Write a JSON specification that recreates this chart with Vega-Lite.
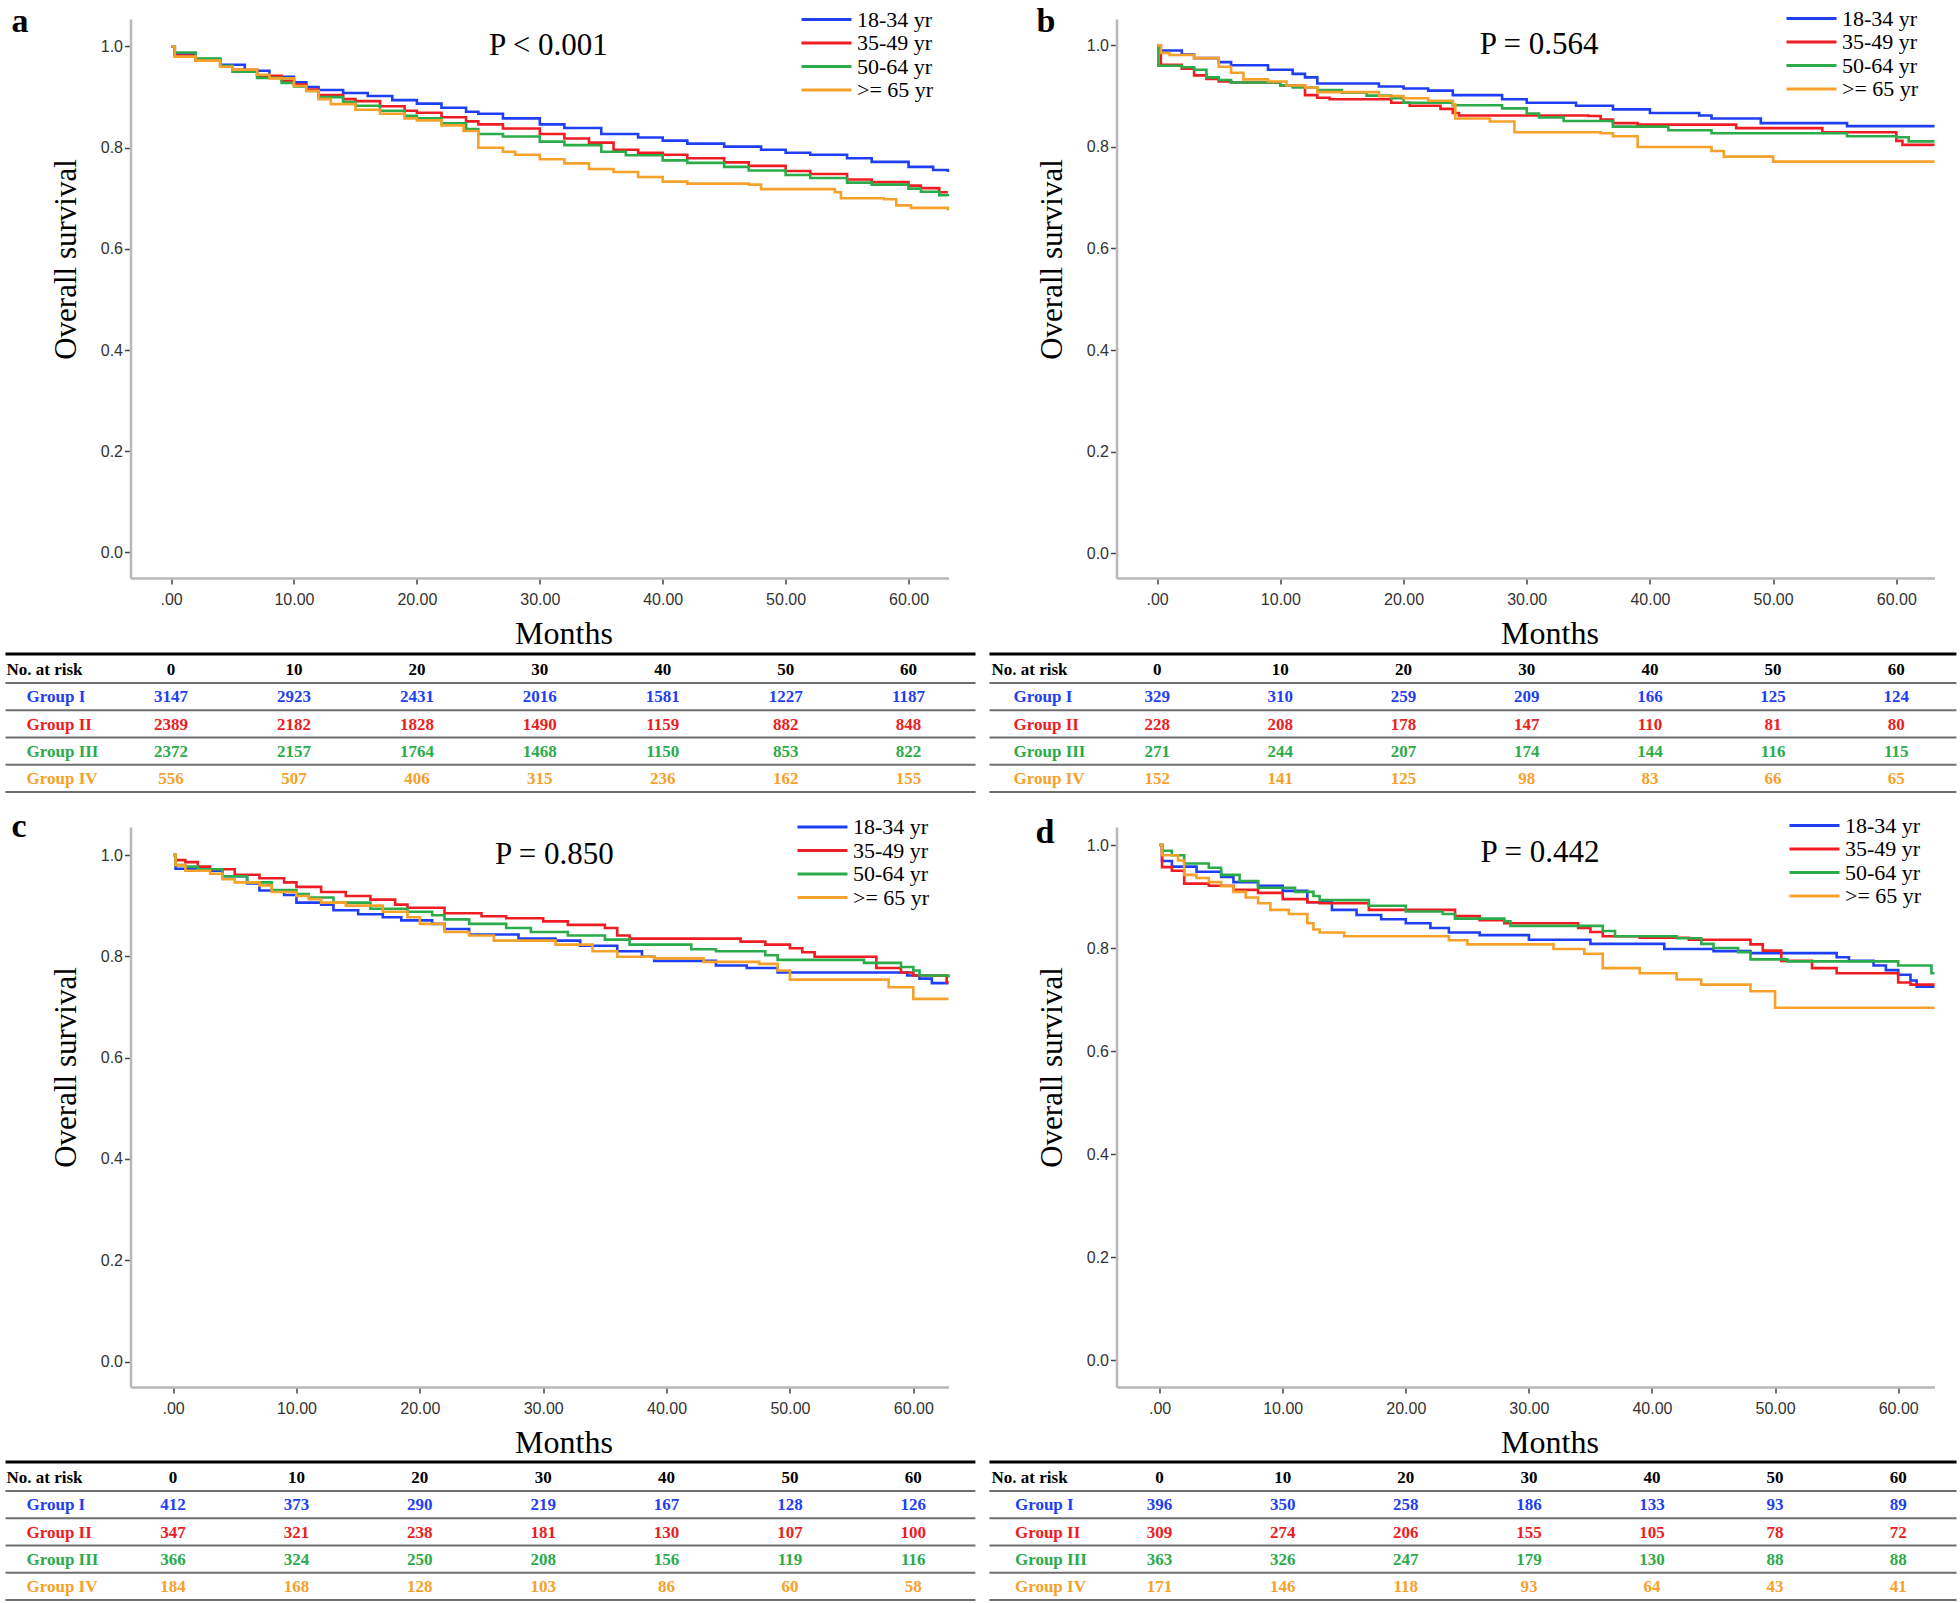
{
"$schema": "https://vega.github.io/schema/vega-lite/v6.json",
"background": "white",
"padding": {"left": 3.5, "top": 4, "right": 0, "bottom": 0},
"columns": 2,
"bounds": "flush",
"spacing": {"row": 249, "column": 168},
"resolve": {"scale": {"color": "independent", "x": "independent", "y": "independent"}, "legend": {"color": "independent"}},
"config": {
  "view": {"stroke": null},
  "axis": {"domainColor": "#b8b8b8", "domainWidth": 2.5, "tickColor": "#444", "tickWidth": 1.5, "tickSize": 6, "labelFont": "Liberation Sans", "labelFontSize": 16, "labelColor": "#333", "grid": false, "titleFont": "Liberation Serif", "titleFontWeight": "normal", "titleColor": "#000", "labelFlush": false, "labelOverlap": false},
  "axisX": {"titleFontSize": 32, "titleX": 433, "titleY": 65, "titleBaseline": "alphabetic", "labelPadding": 7},
  "axisY": {"titleFontSize": 31, "titleX": -55, "titleY": 240, "titleBaseline": "alphabetic", "labelPadding": 2},
  "legend": {"labelFont": "Liberation Serif", "labelFontSize": 22, "labelColor": "#000", "symbolType": "M-5,0H5", "symbolSize": 100, "symbolStrokeWidth": 3, "symbolOffset": 14, "rowPadding": 1.5, "labelOffset": 19.5, "padding": 0, "titlePadding": 0}
},
"datasets": {
  "rows": [{"r":"No. at risk"},{"r":"Group I"},{"r":"Group II"},{"r":"Group III"},{"r":"Group IV"}],
  "grp": [{"g":"18-34 yr","r":"Group I"},{"g":"35-49 yr","r":"Group II"},{"g":"50-64 yr","r":"Group III"},{"g":">= 65 yr","r":"Group IV"}],
  "hdr": [{"t":0},{"t":10},{"t":20},{"t":30},{"t":40},{"t":50},{"t":60}],
  "ca": [
{"g":"18-34 yr","t":0,"s":1},{"g":"18-34 yr","t":0.3,"s":0.985},{"g":"18-34 yr","t":2,"s":0.975},{"g":"18-34 yr","t":4,"s":0.964},{"g":"18-34 yr","t":6,"s":0.952},{"g":"18-34 yr","t":8,"s":0.94},{"g":"18-34 yr","t":10,"s":0.929},{"g":"18-34 yr","t":11,"s":0.92},{"g":"18-34 yr","t":12,"s":0.914},{"g":"18-34 yr","t":14,"s":0.908},{"g":"18-34 yr","t":16,"s":0.902},{"g":"18-34 yr","t":18,"s":0.894},{"g":"18-34 yr","t":20,"s":0.887},{"g":"18-34 yr","t":22,"s":0.879},{"g":"18-34 yr","t":24,"s":0.871},{"g":"18-34 yr","t":25,"s":0.867},{"g":"18-34 yr","t":27,"s":0.858},{"g":"18-34 yr","t":30,"s":0.846},{"g":"18-34 yr","t":32,"s":0.839},{"g":"18-34 yr","t":35,"s":0.827},{"g":"18-34 yr","t":38,"s":0.82},{"g":"18-34 yr","t":40,"s":0.814},{"g":"18-34 yr","t":42,"s":0.808},{"g":"18-34 yr","t":45,"s":0.802},{"g":"18-34 yr","t":48,"s":0.796},{"g":"18-34 yr","t":50,"s":0.79},{"g":"18-34 yr","t":52,"s":0.786},{"g":"18-34 yr","t":55,"s":0.779},{"g":"18-34 yr","t":57,"s":0.772},{"g":"18-34 yr","t":60,"s":0.762},{"g":"18-34 yr","t":62,"s":0.756},{"g":"18-34 yr","t":63.2,"s":0.752},
{"g":"35-49 yr","t":0,"s":1},{"g":"35-49 yr","t":0.3,"s":0.982},{"g":"35-49 yr","t":2,"s":0.972},{"g":"35-49 yr","t":4,"s":0.96},{"g":"35-49 yr","t":5,"s":0.954},{"g":"35-49 yr","t":7,"s":0.942},{"g":"35-49 yr","t":9,"s":0.932},{"g":"35-49 yr","t":10,"s":0.925},{"g":"35-49 yr","t":11,"s":0.915},{"g":"35-49 yr","t":12,"s":0.904},{"g":"35-49 yr","t":14,"s":0.896},{"g":"35-49 yr","t":15,"s":0.892},{"g":"35-49 yr","t":17,"s":0.882},{"g":"35-49 yr","t":19,"s":0.873},{"g":"35-49 yr","t":20,"s":0.869},{"g":"35-49 yr","t":22,"s":0.86},{"g":"35-49 yr","t":24,"s":0.852},{"g":"35-49 yr","t":25,"s":0.846},{"g":"35-49 yr","t":27,"s":0.838},{"g":"35-49 yr","t":30,"s":0.827},{"g":"35-49 yr","t":32,"s":0.818},{"g":"35-49 yr","t":34,"s":0.81},{"g":"35-49 yr","t":36,"s":0.796},{"g":"35-49 yr","t":38,"s":0.79},{"g":"35-49 yr","t":40,"s":0.786},{"g":"35-49 yr","t":42,"s":0.779},{"g":"35-49 yr","t":45,"s":0.771},{"g":"35-49 yr","t":47,"s":0.764},{"g":"35-49 yr","t":50,"s":0.754},{"g":"35-49 yr","t":52,"s":0.748},{"g":"35-49 yr","t":55,"s":0.737},{"g":"35-49 yr","t":57,"s":0.732},{"g":"35-49 yr","t":60,"s":0.725},{"g":"35-49 yr","t":61,"s":0.72},{"g":"35-49 yr","t":62.5,"s":0.712},{"g":"35-49 yr","t":63.2,"s":0.712},
{"g":"50-64 yr","t":0,"s":1},{"g":"50-64 yr","t":0.3,"s":0.988},{"g":"50-64 yr","t":2,"s":0.976},{"g":"50-64 yr","t":4,"s":0.962},{"g":"50-64 yr","t":5,"s":0.95},{"g":"50-64 yr","t":7,"s":0.938},{"g":"50-64 yr","t":9,"s":0.928},{"g":"50-64 yr","t":10,"s":0.921},{"g":"50-64 yr","t":11,"s":0.912},{"g":"50-64 yr","t":12,"s":0.9},{"g":"50-64 yr","t":14,"s":0.89},{"g":"50-64 yr","t":15,"s":0.883},{"g":"50-64 yr","t":17,"s":0.873},{"g":"50-64 yr","t":19,"s":0.863},{"g":"50-64 yr","t":20,"s":0.858},{"g":"50-64 yr","t":22,"s":0.848},{"g":"50-64 yr","t":24,"s":0.837},{"g":"50-64 yr","t":25,"s":0.827},{"g":"50-64 yr","t":27,"s":0.822},{"g":"50-64 yr","t":30,"s":0.812},{"g":"50-64 yr","t":32,"s":0.805},{"g":"50-64 yr","t":35,"s":0.792},{"g":"50-64 yr","t":37,"s":0.785},{"g":"50-64 yr","t":40,"s":0.775},{"g":"50-64 yr","t":42,"s":0.77},{"g":"50-64 yr","t":45,"s":0.762},{"g":"50-64 yr","t":47,"s":0.755},{"g":"50-64 yr","t":50,"s":0.746},{"g":"50-64 yr","t":52,"s":0.74},{"g":"50-64 yr","t":55,"s":0.731},{"g":"50-64 yr","t":57,"s":0.727},{"g":"50-64 yr","t":60,"s":0.719},{"g":"50-64 yr","t":61,"s":0.713},{"g":"50-64 yr","t":62.5,"s":0.706},{"g":"50-64 yr","t":63.2,"s":0.704},
{"g":">= 65 yr","t":0,"s":1},{"g":">= 65 yr","t":0.3,"s":0.98},{"g":">= 65 yr","t":2,"s":0.972},{"g":">= 65 yr","t":4,"s":0.96},{"g":">= 65 yr","t":5,"s":0.954},{"g":">= 65 yr","t":7,"s":0.944},{"g":">= 65 yr","t":8,"s":0.937},{"g":">= 65 yr","t":10,"s":0.922},{"g":">= 65 yr","t":11,"s":0.912},{"g":">= 65 yr","t":12,"s":0.896},{"g":">= 65 yr","t":13,"s":0.886},{"g":">= 65 yr","t":15,"s":0.875},{"g":">= 65 yr","t":17,"s":0.867},{"g":">= 65 yr","t":19,"s":0.858},{"g":">= 65 yr","t":20,"s":0.854},{"g":">= 65 yr","t":22,"s":0.844},{"g":">= 65 yr","t":23.8,"s":0.833},{"g":">= 65 yr","t":25,"s":0.8},{"g":">= 65 yr","t":27,"s":0.792},{"g":">= 65 yr","t":28,"s":0.786},{"g":">= 65 yr","t":30,"s":0.777},{"g":">= 65 yr","t":32,"s":0.769},{"g":">= 65 yr","t":34,"s":0.758},{"g":">= 65 yr","t":36,"s":0.752},{"g":">= 65 yr","t":38,"s":0.742},{"g":">= 65 yr","t":40,"s":0.733},{"g":">= 65 yr","t":42,"s":0.729},{"g":">= 65 yr","t":47,"s":0.727},{"g":">= 65 yr","t":48,"s":0.718},{"g":">= 65 yr","t":54,"s":0.712},{"g":">= 65 yr","t":54.5,"s":0.7},{"g":">= 65 yr","t":58,"s":0.698},{"g":">= 65 yr","t":59,"s":0.686},{"g":">= 65 yr","t":60.2,"s":0.681},{"g":">= 65 yr","t":63.2,"s":0.676}
  ],
  "cb": [
{"g":"18-34 yr","t":0,"s":1},{"g":"18-34 yr","t":0.2,"s":0.99},{"g":"18-34 yr","t":2,"s":0.982},{"g":"18-34 yr","t":3,"s":0.975},{"g":"18-34 yr","t":5,"s":0.967},{"g":"18-34 yr","t":6,"s":0.961},{"g":"18-34 yr","t":9,"s":0.952},{"g":"18-34 yr","t":11,"s":0.944},{"g":"18-34 yr","t":12,"s":0.937},{"g":"18-34 yr","t":13,"s":0.925},{"g":"18-34 yr","t":18,"s":0.919},{"g":"18-34 yr","t":20,"s":0.915},{"g":"18-34 yr","t":22,"s":0.911},{"g":"18-34 yr","t":24,"s":0.902},{"g":"18-34 yr","t":28,"s":0.894},{"g":"18-34 yr","t":30,"s":0.887},{"g":"18-34 yr","t":34,"s":0.881},{"g":"18-34 yr","t":37,"s":0.874},{"g":"18-34 yr","t":40,"s":0.867},{"g":"18-34 yr","t":44,"s":0.862},{"g":"18-34 yr","t":45,"s":0.856},{"g":"18-34 yr","t":49,"s":0.847},{"g":"18-34 yr","t":56,"s":0.841},{"g":"18-34 yr","t":63.1,"s":0.841},
{"g":"35-49 yr","t":0,"s":1},{"g":"35-49 yr","t":0.3,"s":0.962},{"g":"35-49 yr","t":2,"s":0.954},{"g":"35-49 yr","t":3,"s":0.941},{"g":"35-49 yr","t":4,"s":0.934},{"g":"35-49 yr","t":5,"s":0.929},{"g":"35-49 yr","t":6,"s":0.927},{"g":"35-49 yr","t":10,"s":0.921},{"g":"35-49 yr","t":12,"s":0.902},{"g":"35-49 yr","t":13,"s":0.897},{"g":"35-49 yr","t":14,"s":0.894},{"g":"35-49 yr","t":19,"s":0.887},{"g":"35-49 yr","t":20.5,"s":0.881},{"g":"35-49 yr","t":23,"s":0.875},{"g":"35-49 yr","t":24,"s":0.867},{"g":"35-49 yr","t":24.5,"s":0.862},{"g":"35-49 yr","t":35,"s":0.861},{"g":"35-49 yr","t":36,"s":0.854},{"g":"35-49 yr","t":37,"s":0.847},{"g":"35-49 yr","t":39,"s":0.844},{"g":"35-49 yr","t":47,"s":0.837},{"g":"35-49 yr","t":54,"s":0.829},{"g":"35-49 yr","t":60,"s":0.812},{"g":"35-49 yr","t":60.5,"s":0.804},{"g":"35-49 yr","t":63.1,"s":0.804},
{"g":"50-64 yr","t":0,"s":1},{"g":"50-64 yr","t":0.1,"s":0.96},{"g":"50-64 yr","t":2,"s":0.957},{"g":"50-64 yr","t":3,"s":0.952},{"g":"50-64 yr","t":4,"s":0.937},{"g":"50-64 yr","t":5,"s":0.932},{"g":"50-64 yr","t":6,"s":0.927},{"g":"50-64 yr","t":10,"s":0.921},{"g":"50-64 yr","t":11,"s":0.917},{"g":"50-64 yr","t":13,"s":0.912},{"g":"50-64 yr","t":15,"s":0.907},{"g":"50-64 yr","t":17,"s":0.901},{"g":"50-64 yr","t":19,"s":0.896},{"g":"50-64 yr","t":20,"s":0.887},{"g":"50-64 yr","t":24,"s":0.882},{"g":"50-64 yr","t":28,"s":0.876},{"g":"50-64 yr","t":30,"s":0.866},{"g":"50-64 yr","t":31,"s":0.858},{"g":"50-64 yr","t":33,"s":0.851},{"g":"50-64 yr","t":37,"s":0.84},{"g":"50-64 yr","t":41.5,"s":0.833},{"g":"50-64 yr","t":45,"s":0.827},{"g":"50-64 yr","t":56,"s":0.821},{"g":"50-64 yr","t":60,"s":0.819},{"g":"50-64 yr","t":61,"s":0.811},{"g":"50-64 yr","t":63.1,"s":0.811},
{"g":">= 65 yr","t":0,"s":1},{"g":">= 65 yr","t":0.3,"s":0.985},{"g":">= 65 yr","t":1,"s":0.981},{"g":">= 65 yr","t":3,"s":0.975},{"g":">= 65 yr","t":5,"s":0.958},{"g":">= 65 yr","t":6,"s":0.946},{"g":">= 65 yr","t":7,"s":0.933},{"g":">= 65 yr","t":9,"s":0.929},{"g":">= 65 yr","t":10.5,"s":0.921},{"g":">= 65 yr","t":12,"s":0.917},{"g":">= 65 yr","t":13,"s":0.908},{"g":">= 65 yr","t":18,"s":0.9},{"g":">= 65 yr","t":20,"s":0.896},{"g":">= 65 yr","t":22,"s":0.891},{"g":">= 65 yr","t":24,"s":0.884},{"g":">= 65 yr","t":24.2,"s":0.856},{"g":">= 65 yr","t":27,"s":0.85},{"g":">= 65 yr","t":29,"s":0.829},{"g":">= 65 yr","t":36,"s":0.827},{"g":">= 65 yr","t":37,"s":0.821},{"g":">= 65 yr","t":39,"s":0.8},{"g":">= 65 yr","t":45,"s":0.792},{"g":">= 65 yr","t":46,"s":0.781},{"g":">= 65 yr","t":50,"s":0.771},{"g":">= 65 yr","t":63.1,"s":0.771}
  ],
  "cc": [
{"g":"18-34 yr","t":0,"s":1},{"g":"18-34 yr","t":0.2,"s":0.973},{"g":"18-34 yr","t":2,"s":0.969},{"g":"18-34 yr","t":4,"s":0.958},{"g":"18-34 yr","t":6,"s":0.944},{"g":"18-34 yr","t":7,"s":0.93},{"g":"18-34 yr","t":9,"s":0.921},{"g":"18-34 yr","t":10,"s":0.906},{"g":"18-34 yr","t":12,"s":0.902},{"g":"18-34 yr","t":13,"s":0.891},{"g":"18-34 yr","t":15,"s":0.883},{"g":"18-34 yr","t":17,"s":0.877},{"g":"18-34 yr","t":18.5,"s":0.871},{"g":"18-34 yr","t":21,"s":0.864},{"g":"18-34 yr","t":22,"s":0.854},{"g":"18-34 yr","t":24,"s":0.843},{"g":"18-34 yr","t":28,"s":0.835},{"g":"18-34 yr","t":31,"s":0.831},{"g":"18-34 yr","t":33,"s":0.821},{"g":"18-34 yr","t":36,"s":0.81},{"g":"18-34 yr","t":38,"s":0.799},{"g":"18-34 yr","t":39,"s":0.791},{"g":"18-34 yr","t":44,"s":0.782},{"g":"18-34 yr","t":46.5,"s":0.777},{"g":"18-34 yr","t":49,"s":0.768},{"g":"18-34 yr","t":59.5,"s":0.762},{"g":"18-34 yr","t":60.5,"s":0.756},{"g":"18-34 yr","t":61.5,"s":0.747},{"g":"18-34 yr","t":62.85,"s":0.747},
{"g":"35-49 yr","t":0,"s":1},{"g":"35-49 yr","t":0.2,"s":0.99},{"g":"35-49 yr","t":1,"s":0.986},{"g":"35-49 yr","t":2,"s":0.977},{"g":"35-49 yr","t":3,"s":0.972},{"g":"35-49 yr","t":5,"s":0.961},{"g":"35-49 yr","t":7,"s":0.954},{"g":"35-49 yr","t":9,"s":0.946},{"g":"35-49 yr","t":10,"s":0.937},{"g":"35-49 yr","t":12,"s":0.927},{"g":"35-49 yr","t":14,"s":0.919},{"g":"35-49 yr","t":16,"s":0.912},{"g":"35-49 yr","t":18,"s":0.902},{"g":"35-49 yr","t":19,"s":0.896},{"g":"35-49 yr","t":22,"s":0.885},{"g":"35-49 yr","t":25,"s":0.879},{"g":"35-49 yr","t":27,"s":0.875},{"g":"35-49 yr","t":30,"s":0.869},{"g":"35-49 yr","t":32,"s":0.862},{"g":"35-49 yr","t":35,"s":0.856},{"g":"35-49 yr","t":36,"s":0.841},{"g":"35-49 yr","t":37,"s":0.835},{"g":"35-49 yr","t":46,"s":0.829},{"g":"35-49 yr","t":48,"s":0.823},{"g":"35-49 yr","t":50,"s":0.816},{"g":"35-49 yr","t":51,"s":0.808},{"g":"35-49 yr","t":52,"s":0.799},{"g":"35-49 yr","t":57,"s":0.777},{"g":"35-49 yr","t":59,"s":0.768},{"g":"35-49 yr","t":60,"s":0.762},{"g":"35-49 yr","t":62.7,"s":0.749},{"g":"35-49 yr","t":62.85,"s":0.749},
{"g":"50-64 yr","t":0,"s":1},{"g":"50-64 yr","t":0.2,"s":0.98},{"g":"50-64 yr","t":1,"s":0.977},{"g":"50-64 yr","t":2,"s":0.972},{"g":"50-64 yr","t":4,"s":0.958},{"g":"50-64 yr","t":6,"s":0.946},{"g":"50-64 yr","t":8,"s":0.931},{"g":"50-64 yr","t":10,"s":0.923},{"g":"50-64 yr","t":11,"s":0.916},{"g":"50-64 yr","t":13,"s":0.906},{"g":"50-64 yr","t":16,"s":0.894},{"g":"50-64 yr","t":19,"s":0.888},{"g":"50-64 yr","t":21,"s":0.881},{"g":"50-64 yr","t":22,"s":0.873},{"g":"50-64 yr","t":24,"s":0.864},{"g":"50-64 yr","t":27,"s":0.856},{"g":"50-64 yr","t":29,"s":0.848},{"g":"50-64 yr","t":32,"s":0.841},{"g":"50-64 yr","t":35,"s":0.833},{"g":"50-64 yr","t":37,"s":0.823},{"g":"50-64 yr","t":42,"s":0.814},{"g":"50-64 yr","t":44,"s":0.81},{"g":"50-64 yr","t":48,"s":0.802},{"g":"50-64 yr","t":49,"s":0.793},{"g":"50-64 yr","t":56,"s":0.787},{"g":"50-64 yr","t":59,"s":0.779},{"g":"50-64 yr","t":60,"s":0.772},{"g":"50-64 yr","t":60.5,"s":0.762},{"g":"50-64 yr","t":62.85,"s":0.758},
{"g":">= 65 yr","t":0,"s":1},{"g":">= 65 yr","t":0.2,"s":0.98},{"g":">= 65 yr","t":1,"s":0.969},{"g":">= 65 yr","t":3,"s":0.963},{"g":">= 65 yr","t":4,"s":0.952},{"g":">= 65 yr","t":5,"s":0.946},{"g":">= 65 yr","t":7,"s":0.94},{"g":">= 65 yr","t":8,"s":0.927},{"g":">= 65 yr","t":10,"s":0.919},{"g":">= 65 yr","t":11,"s":0.913},{"g":">= 65 yr","t":12,"s":0.906},{"g":">= 65 yr","t":14,"s":0.9},{"g":">= 65 yr","t":17,"s":0.888},{"g":">= 65 yr","t":19,"s":0.877},{"g":">= 65 yr","t":20,"s":0.864},{"g":">= 65 yr","t":22,"s":0.848},{"g":">= 65 yr","t":24,"s":0.841},{"g":">= 65 yr","t":26,"s":0.831},{"g":">= 65 yr","t":31,"s":0.823},{"g":">= 65 yr","t":34,"s":0.81},{"g":">= 65 yr","t":36,"s":0.799},{"g":">= 65 yr","t":39,"s":0.796},{"g":">= 65 yr","t":43,"s":0.789},{"g":">= 65 yr","t":47.5,"s":0.785},{"g":">= 65 yr","t":49,"s":0.772},{"g":">= 65 yr","t":50,"s":0.754},{"g":">= 65 yr","t":58,"s":0.739},{"g":">= 65 yr","t":60,"s":0.716},{"g":">= 65 yr","t":62.85,"s":0.716}
  ],
  "cd": [
{"g":"18-34 yr","t":0,"s":1},{"g":"18-34 yr","t":0.2,"s":0.969},{"g":"18-34 yr","t":1,"s":0.958},{"g":"18-34 yr","t":3,"s":0.948},{"g":"18-34 yr","t":5,"s":0.938},{"g":"18-34 yr","t":6,"s":0.928},{"g":"18-34 yr","t":8,"s":0.921},{"g":"18-34 yr","t":10,"s":0.911},{"g":"18-34 yr","t":12,"s":0.889},{"g":"18-34 yr","t":14,"s":0.874},{"g":"18-34 yr","t":16,"s":0.864},{"g":"18-34 yr","t":18,"s":0.856},{"g":"18-34 yr","t":20,"s":0.848},{"g":"18-34 yr","t":22,"s":0.839},{"g":"18-34 yr","t":23.5,"s":0.83},{"g":"18-34 yr","t":26,"s":0.825},{"g":"18-34 yr","t":30,"s":0.816},{"g":"18-34 yr","t":35,"s":0.808},{"g":"18-34 yr","t":41,"s":0.798},{"g":"18-34 yr","t":45,"s":0.794},{"g":"18-34 yr","t":48,"s":0.79},{"g":"18-34 yr","t":55,"s":0.782},{"g":"18-34 yr","t":56,"s":0.775},{"g":"18-34 yr","t":58,"s":0.766},{"g":"18-34 yr","t":59,"s":0.757},{"g":"18-34 yr","t":60,"s":0.748},{"g":"18-34 yr","t":61,"s":0.737},{"g":"18-34 yr","t":61.5,"s":0.725},{"g":"18-34 yr","t":62.95,"s":0.725},
{"g":"35-49 yr","t":0,"s":1},{"g":"35-49 yr","t":0.2,"s":0.957},{"g":"35-49 yr","t":1,"s":0.95},{"g":"35-49 yr","t":2,"s":0.925},{"g":"35-49 yr","t":4,"s":0.921},{"g":"35-49 yr","t":6,"s":0.913},{"g":"35-49 yr","t":8,"s":0.907},{"g":"35-49 yr","t":10,"s":0.895},{"g":"35-49 yr","t":12,"s":0.889},{"g":"35-49 yr","t":13,"s":0.887},{"g":"35-49 yr","t":17,"s":0.874},{"g":"35-49 yr","t":24,"s":0.862},{"g":"35-49 yr","t":26,"s":0.854},{"g":"35-49 yr","t":28,"s":0.848},{"g":"35-49 yr","t":34,"s":0.839},{"g":"35-49 yr","t":35,"s":0.831},{"g":"35-49 yr","t":36,"s":0.823},{"g":"35-49 yr","t":39,"s":0.82},{"g":"35-49 yr","t":43,"s":0.816},{"g":"35-49 yr","t":48,"s":0.807},{"g":"35-49 yr","t":49,"s":0.795},{"g":"35-49 yr","t":50.5,"s":0.775},{"g":"35-49 yr","t":53,"s":0.761},{"g":"35-49 yr","t":55,"s":0.751},{"g":"35-49 yr","t":60,"s":0.733},{"g":"35-49 yr","t":61,"s":0.729},{"g":"35-49 yr","t":62.95,"s":0.729},
{"g":"50-64 yr","t":0,"s":1},{"g":"50-64 yr","t":0.2,"s":0.989},{"g":"50-64 yr","t":1,"s":0.98},{"g":"50-64 yr","t":2,"s":0.964},{"g":"50-64 yr","t":4,"s":0.956},{"g":"50-64 yr","t":5,"s":0.942},{"g":"50-64 yr","t":6.5,"s":0.93},{"g":"50-64 yr","t":8,"s":0.917},{"g":"50-64 yr","t":11,"s":0.909},{"g":"50-64 yr","t":12.5,"s":0.901},{"g":"50-64 yr","t":13,"s":0.893},{"g":"50-64 yr","t":17,"s":0.882},{"g":"50-64 yr","t":20,"s":0.871},{"g":"50-64 yr","t":23,"s":0.866},{"g":"50-64 yr","t":24,"s":0.857},{"g":"50-64 yr","t":28,"s":0.852},{"g":"50-64 yr","t":28.5,"s":0.843},{"g":"50-64 yr","t":36,"s":0.833},{"g":"50-64 yr","t":37,"s":0.823},{"g":"50-64 yr","t":42,"s":0.819},{"g":"50-64 yr","t":44,"s":0.808},{"g":"50-64 yr","t":45,"s":0.8},{"g":"50-64 yr","t":47,"s":0.792},{"g":"50-64 yr","t":48,"s":0.778},{"g":"50-64 yr","t":51,"s":0.774},{"g":"50-64 yr","t":60,"s":0.766},{"g":"50-64 yr","t":62.7,"s":0.751},{"g":"50-64 yr","t":62.95,"s":0.751},
{"g":">= 65 yr","t":0,"s":1},{"g":">= 65 yr","t":0.2,"s":0.98},{"g":">= 65 yr","t":1.5,"s":0.97},{"g":">= 65 yr","t":2,"s":0.942},{"g":">= 65 yr","t":3,"s":0.936},{"g":">= 65 yr","t":4,"s":0.928},{"g":">= 65 yr","t":5,"s":0.92},{"g":">= 65 yr","t":6,"s":0.909},{"g":">= 65 yr","t":7,"s":0.898},{"g":">= 65 yr","t":8,"s":0.887},{"g":">= 65 yr","t":9,"s":0.874},{"g":">= 65 yr","t":10.5,"s":0.866},{"g":">= 65 yr","t":12,"s":0.848},{"g":">= 65 yr","t":12.5,"s":0.836},{"g":">= 65 yr","t":13,"s":0.83},{"g":">= 65 yr","t":15,"s":0.823},{"g":">= 65 yr","t":23.5,"s":0.815},{"g":">= 65 yr","t":25,"s":0.807},{"g":">= 65 yr","t":32,"s":0.798},{"g":">= 65 yr","t":34.5,"s":0.789},{"g":">= 65 yr","t":36,"s":0.761},{"g":">= 65 yr","t":39,"s":0.751},{"g":">= 65 yr","t":42,"s":0.739},{"g":">= 65 yr","t":44,"s":0.729},{"g":">= 65 yr","t":48,"s":0.716},{"g":">= 65 yr","t":50,"s":0.684},{"g":">= 65 yr","t":62.95,"s":0.684}
  ],
  "ta": [
{"g":"18-34 yr","r":"Group I","t":0,"n":3147},{"g":"18-34 yr","r":"Group I","t":10,"n":2923},{"g":"18-34 yr","r":"Group I","t":20,"n":2431},{"g":"18-34 yr","r":"Group I","t":30,"n":2016},{"g":"18-34 yr","r":"Group I","t":40,"n":1581},{"g":"18-34 yr","r":"Group I","t":50,"n":1227},{"g":"18-34 yr","r":"Group I","t":60,"n":1187},
{"g":"35-49 yr","r":"Group II","t":0,"n":2389},{"g":"35-49 yr","r":"Group II","t":10,"n":2182},{"g":"35-49 yr","r":"Group II","t":20,"n":1828},{"g":"35-49 yr","r":"Group II","t":30,"n":1490},{"g":"35-49 yr","r":"Group II","t":40,"n":1159},{"g":"35-49 yr","r":"Group II","t":50,"n":882},{"g":"35-49 yr","r":"Group II","t":60,"n":848},
{"g":"50-64 yr","r":"Group III","t":0,"n":2372},{"g":"50-64 yr","r":"Group III","t":10,"n":2157},{"g":"50-64 yr","r":"Group III","t":20,"n":1764},{"g":"50-64 yr","r":"Group III","t":30,"n":1468},{"g":"50-64 yr","r":"Group III","t":40,"n":1150},{"g":"50-64 yr","r":"Group III","t":50,"n":853},{"g":"50-64 yr","r":"Group III","t":60,"n":822},
{"g":">= 65 yr","r":"Group IV","t":0,"n":556},{"g":">= 65 yr","r":"Group IV","t":10,"n":507},{"g":">= 65 yr","r":"Group IV","t":20,"n":406},{"g":">= 65 yr","r":"Group IV","t":30,"n":315},{"g":">= 65 yr","r":"Group IV","t":40,"n":236},{"g":">= 65 yr","r":"Group IV","t":50,"n":162},{"g":">= 65 yr","r":"Group IV","t":60,"n":155}
  ],
  "tb": [
{"g":"18-34 yr","r":"Group I","t":0,"n":329},{"g":"18-34 yr","r":"Group I","t":10,"n":310},{"g":"18-34 yr","r":"Group I","t":20,"n":259},{"g":"18-34 yr","r":"Group I","t":30,"n":209},{"g":"18-34 yr","r":"Group I","t":40,"n":166},{"g":"18-34 yr","r":"Group I","t":50,"n":125},{"g":"18-34 yr","r":"Group I","t":60,"n":124},
{"g":"35-49 yr","r":"Group II","t":0,"n":228},{"g":"35-49 yr","r":"Group II","t":10,"n":208},{"g":"35-49 yr","r":"Group II","t":20,"n":178},{"g":"35-49 yr","r":"Group II","t":30,"n":147},{"g":"35-49 yr","r":"Group II","t":40,"n":110},{"g":"35-49 yr","r":"Group II","t":50,"n":81},{"g":"35-49 yr","r":"Group II","t":60,"n":80},
{"g":"50-64 yr","r":"Group III","t":0,"n":271},{"g":"50-64 yr","r":"Group III","t":10,"n":244},{"g":"50-64 yr","r":"Group III","t":20,"n":207},{"g":"50-64 yr","r":"Group III","t":30,"n":174},{"g":"50-64 yr","r":"Group III","t":40,"n":144},{"g":"50-64 yr","r":"Group III","t":50,"n":116},{"g":"50-64 yr","r":"Group III","t":60,"n":115},
{"g":">= 65 yr","r":"Group IV","t":0,"n":152},{"g":">= 65 yr","r":"Group IV","t":10,"n":141},{"g":">= 65 yr","r":"Group IV","t":20,"n":125},{"g":">= 65 yr","r":"Group IV","t":30,"n":98},{"g":">= 65 yr","r":"Group IV","t":40,"n":83},{"g":">= 65 yr","r":"Group IV","t":50,"n":66},{"g":">= 65 yr","r":"Group IV","t":60,"n":65}
  ],
  "tc": [
{"g":"18-34 yr","r":"Group I","t":0,"n":412},{"g":"18-34 yr","r":"Group I","t":10,"n":373},{"g":"18-34 yr","r":"Group I","t":20,"n":290},{"g":"18-34 yr","r":"Group I","t":30,"n":219},{"g":"18-34 yr","r":"Group I","t":40,"n":167},{"g":"18-34 yr","r":"Group I","t":50,"n":128},{"g":"18-34 yr","r":"Group I","t":60,"n":126},
{"g":"35-49 yr","r":"Group II","t":0,"n":347},{"g":"35-49 yr","r":"Group II","t":10,"n":321},{"g":"35-49 yr","r":"Group II","t":20,"n":238},{"g":"35-49 yr","r":"Group II","t":30,"n":181},{"g":"35-49 yr","r":"Group II","t":40,"n":130},{"g":"35-49 yr","r":"Group II","t":50,"n":107},{"g":"35-49 yr","r":"Group II","t":60,"n":100},
{"g":"50-64 yr","r":"Group III","t":0,"n":366},{"g":"50-64 yr","r":"Group III","t":10,"n":324},{"g":"50-64 yr","r":"Group III","t":20,"n":250},{"g":"50-64 yr","r":"Group III","t":30,"n":208},{"g":"50-64 yr","r":"Group III","t":40,"n":156},{"g":"50-64 yr","r":"Group III","t":50,"n":119},{"g":"50-64 yr","r":"Group III","t":60,"n":116},
{"g":">= 65 yr","r":"Group IV","t":0,"n":184},{"g":">= 65 yr","r":"Group IV","t":10,"n":168},{"g":">= 65 yr","r":"Group IV","t":20,"n":128},{"g":">= 65 yr","r":"Group IV","t":30,"n":103},{"g":">= 65 yr","r":"Group IV","t":40,"n":86},{"g":">= 65 yr","r":"Group IV","t":50,"n":60},{"g":">= 65 yr","r":"Group IV","t":60,"n":58}
  ],
  "td": [
{"g":"18-34 yr","r":"Group I","t":0,"n":396},{"g":"18-34 yr","r":"Group I","t":10,"n":350},{"g":"18-34 yr","r":"Group I","t":20,"n":258},{"g":"18-34 yr","r":"Group I","t":30,"n":186},{"g":"18-34 yr","r":"Group I","t":40,"n":133},{"g":"18-34 yr","r":"Group I","t":50,"n":93},{"g":"18-34 yr","r":"Group I","t":60,"n":89},
{"g":"35-49 yr","r":"Group II","t":0,"n":309},{"g":"35-49 yr","r":"Group II","t":10,"n":274},{"g":"35-49 yr","r":"Group II","t":20,"n":206},{"g":"35-49 yr","r":"Group II","t":30,"n":155},{"g":"35-49 yr","r":"Group II","t":40,"n":105},{"g":"35-49 yr","r":"Group II","t":50,"n":78},{"g":"35-49 yr","r":"Group II","t":60,"n":72},
{"g":"50-64 yr","r":"Group III","t":0,"n":363},{"g":"50-64 yr","r":"Group III","t":10,"n":326},{"g":"50-64 yr","r":"Group III","t":20,"n":247},{"g":"50-64 yr","r":"Group III","t":30,"n":179},{"g":"50-64 yr","r":"Group III","t":40,"n":130},{"g":"50-64 yr","r":"Group III","t":50,"n":88},{"g":"50-64 yr","r":"Group III","t":60,"n":88},
{"g":">= 65 yr","r":"Group IV","t":0,"n":171},{"g":">= 65 yr","r":"Group IV","t":10,"n":146},{"g":">= 65 yr","r":"Group IV","t":20,"n":118},{"g":">= 65 yr","r":"Group IV","t":30,"n":93},{"g":">= 65 yr","r":"Group IV","t":40,"n":64},{"g":">= 65 yr","r":"Group IV","t":50,"n":43},{"g":">= 65 yr","r":"Group IV","t":60,"n":41}
  ]
},
"concat": [
{
 "width": 818, "height": 559,
 "resolve": {"scale": {"y": "independent"}},
 "layer": [
  {"layer": [
   {"data": {"name": "ca"}, "mark": {"type": "line", "interpolate": "step-after", "strokeWidth": 2.6},
    "encoding": {
     "x": {"field": "t", "type": "quantitative", "scale": {"domain": [-3.3, 63.25], "nice": false, "zero": false}, "axis": {"values": [0,10,20,30,40,50,60], "labelExpr": "datum.value == 0 ? '.00' : format(datum.value, '.2f')", "title": "Months"}},
     "y": {"field": "s", "type": "quantitative", "scale": {"domain": [-0.0504, 1.0543], "nice": false, "zero": false}, "axis": {"values": [0,0.2,0.4,0.6,0.8,1], "format": ".1f", "title": "Overall survival"}},
     "color": {"field": "g", "type": "nominal", "scale": {"domain": ["18-34 yr","35-49 yr","50-64 yr",">= 65 yr"], "range": ["#1f3ff2","#ee1d23","#2bab4a","#f6a12b"]}, "legend": {"orient": "none", "legendX": 671, "legendY": -10.5, "title": null}}
    }},
   {"data": {"values": [{"p": "P < 0.001"}]}, "mark": {"type": "text", "font": "Liberation Serif", "fontSize": 31, "baseline": "middle", "align": "center", "color": "#000"},
    "encoding": {"x": {"datum": 30.7, "type": "quantitative", "scale": {"domain": [-3.3, 63.25], "nice": false, "zero": false}}, "y": {"datum": 1.0, "type": "quantitative", "scale": {"domain": [-0.0504, 1.0543], "nice": false, "zero": false}}, "text": {"field": "p"}}},
   {"data": {"values": [{"k": "a"}]}, "mark": {"type": "text", "font": "Liberation Serif", "fontSize": 34, "fontWeight": "bold", "baseline": "alphabetic", "align": "left", "color": "#000"},
    "encoding": {"x": {"datum": -12.98, "type": "quantitative", "scale": {"domain": [-3.3, 63.25], "nice": false, "zero": false}}, "y": {"datum": 1.0286, "type": "quantitative", "scale": {"domain": [-0.0504, 1.0543], "nice": false, "zero": false}}, "text": {"field": "k"}}}
  ]},
  {"layer": [
   {"data": {"name": "rows"}, "mark": {"type": "rule", "color": "#6e6e6e", "strokeWidth": 2, "yOffset": 13},
    "encoding": {"x": {"datum": -13.47, "type": "quantitative", "scale": {"domain": [-3.3, 63.25], "nice": false, "zero": false}}, "x2": {"datum": 65.45}, "y": {"field": "r", "type": "nominal", "scale": {"type": "point", "domain": ["No. at risk","Group I","Group II","Group III","Group IV"], "range": [651, 760], "padding": 0}, "axis": null}}},
   {"data": {"values": [{"r": "No. at risk"}]}, "mark": {"type": "rule", "color": "#000", "strokeWidth": 3, "yOffset": -16},
    "encoding": {"x": {"datum": -13.47, "type": "quantitative", "scale": {"domain": [-3.3, 63.25], "nice": false, "zero": false}}, "x2": {"datum": 65.45}, "y": {"field": "r", "type": "nominal", "scale": {"type": "point", "domain": ["No. at risk","Group I","Group II","Group III","Group IV"], "range": [651, 760], "padding": 0}, "axis": null}}},
   {"data": {"values": [{"r": "No. at risk"}]}, "mark": {"type": "text", "font": "Liberation Serif", "fontSize": 17, "fontWeight": "bold", "align": "left", "baseline": "middle", "color": "#000"},
    "encoding": {"x": {"datum": -13.39, "type": "quantitative", "scale": {"domain": [-3.3, 63.25], "nice": false, "zero": false}}, "y": {"field": "r", "type": "nominal", "scale": {"type": "point", "domain": ["No. at risk","Group I","Group II","Group III","Group IV"], "range": [651, 760], "padding": 0}, "axis": null}, "text": {"field": "r"}}},
   {"data": {"name": "hdr"}, "mark": {"type": "text", "font": "Liberation Serif", "fontSize": 17, "fontWeight": "bold", "align": "center", "baseline": "middle", "color": "#000"},
    "encoding": {"x": {"field": "t", "type": "quantitative", "title": "Months", "scale": {"domain": [-3.3, 63.25], "nice": false, "zero": false}}, "y": {"datum": "No. at risk", "type": "nominal", "scale": {"type": "point", "domain": ["No. at risk","Group I","Group II","Group III","Group IV"], "range": [651, 760], "padding": 0}, "axis": null}, "text": {"field": "t"}}},
   {"data": {"name": "grp"}, "mark": {"type": "text", "font": "Liberation Serif", "fontSize": 17, "fontWeight": "bold", "align": "left", "baseline": "middle"},
    "encoding": {"x": {"datum": -11.76, "type": "quantitative", "scale": {"domain": [-3.3, 63.25], "nice": false, "zero": false}}, "y": {"field": "r", "type": "nominal", "scale": {"type": "point", "domain": ["No. at risk","Group I","Group II","Group III","Group IV"], "range": [651, 760], "padding": 0}, "axis": null}, "text": {"field": "r"}, "color": {"field": "g", "type": "nominal", "scale": {"domain": ["18-34 yr","35-49 yr","50-64 yr",">= 65 yr"], "range": ["#1f3ff2","#ee1d23","#2bab4a","#f6a12b"]}, "legend": null}}},
   {"data": {"name": "ta"}, "mark": {"type": "text", "font": "Liberation Serif", "fontSize": 17, "fontWeight": "bold", "align": "center", "baseline": "middle"},
    "encoding": {"x": {"field": "t", "type": "quantitative", "title": "Months", "scale": {"domain": [-3.3, 63.25], "nice": false, "zero": false}}, "y": {"field": "r", "type": "nominal", "scale": {"type": "point", "domain": ["No. at risk","Group I","Group II","Group III","Group IV"], "range": [651, 760], "padding": 0}, "axis": null}, "text": {"field": "n"}, "color": {"field": "g", "type": "nominal", "scale": {"domain": ["18-34 yr","35-49 yr","50-64 yr",">= 65 yr"], "range": ["#1f3ff2","#ee1d23","#2bab4a","#f6a12b"]}, "legend": null}}}
  ]}
 ]
},
{
 "width": 818, "height": 559,
 "resolve": {"scale": {"y": "independent"}},
 "layer": [
  {"layer": [
   {"data": {"name": "cb"}, "mark": {"type": "line", "interpolate": "step-after", "strokeWidth": 2.6},
    "encoding": {
     "x": {"field": "t", "type": "quantitative", "scale": {"domain": [-3.3, 63.1], "nice": false, "zero": false}, "axis": {"values": [0,10,20,30,40,50,60], "labelExpr": "datum.value == 0 ? '.00' : format(datum.value, '.2f')", "title": "Months"}},
     "y": {"field": "s", "type": "quantitative", "scale": {"domain": [-0.049, 1.052], "nice": false, "zero": false}, "axis": {"values": [0,0.2,0.4,0.6,0.8,1], "format": ".1f", "title": "Overall survival"}},
     "color": {"field": "g", "type": "nominal", "scale": {"domain": ["18-34 yr","35-49 yr","50-64 yr",">= 65 yr"], "range": ["#1f3ff2","#ee1d23","#2bab4a","#f6a12b"]}, "legend": {"orient": "none", "legendX": 670, "legendY": -11.5, "title": null}}
    }},
   {"data": {"values": [{"p": "P = 0.564"}]}, "mark": {"type": "text", "font": "Liberation Serif", "fontSize": 31, "baseline": "middle", "align": "center", "color": "#000"},
    "encoding": {"x": {"datum": 31.0, "type": "quantitative", "scale": {"domain": [-3.3, 63.1], "nice": false, "zero": false}}, "y": {"datum": 1.0, "type": "quantitative", "scale": {"domain": [-0.049, 1.052], "nice": false, "zero": false}}, "text": {"field": "p"}}},
   {"data": {"values": [{"k": "b"}]}, "mark": {"type": "text", "font": "Liberation Serif", "fontSize": 34, "fontWeight": "bold", "baseline": "alphabetic", "align": "left", "color": "#000"},
    "encoding": {"x": {"datum": -9.79, "type": "quantitative", "scale": {"domain": [-3.3, 63.1], "nice": false, "zero": false}}, "y": {"datum": 1.0264, "type": "quantitative", "scale": {"domain": [-0.049, 1.052], "nice": false, "zero": false}}, "text": {"field": "k"}}}
  ]},
  {"layer": [
   {"data": {"name": "rows"}, "mark": {"type": "rule", "color": "#6e6e6e", "strokeWidth": 2, "yOffset": 13},
    "encoding": {"x": {"datum": -13.61, "type": "quantitative", "scale": {"domain": [-3.3, 63.1], "nice": false, "zero": false}}, "x2": {"datum": 64.88}, "y": {"field": "r", "type": "nominal", "scale": {"type": "point", "domain": ["No. at risk","Group I","Group II","Group III","Group IV"], "range": [651, 760], "padding": 0}, "axis": null}}},
   {"data": {"values": [{"r": "No. at risk"}]}, "mark": {"type": "rule", "color": "#000", "strokeWidth": 3, "yOffset": -16},
    "encoding": {"x": {"datum": -13.61, "type": "quantitative", "scale": {"domain": [-3.3, 63.1], "nice": false, "zero": false}}, "x2": {"datum": 64.88}, "y": {"field": "r", "type": "nominal", "scale": {"type": "point", "domain": ["No. at risk","Group I","Group II","Group III","Group IV"], "range": [651, 760], "padding": 0}, "axis": null}}},
   {"data": {"values": [{"r": "No. at risk"}]}, "mark": {"type": "text", "font": "Liberation Serif", "fontSize": 17, "fontWeight": "bold", "align": "left", "baseline": "middle", "color": "#000"},
    "encoding": {"x": {"datum": -13.45, "type": "quantitative", "scale": {"domain": [-3.3, 63.1], "nice": false, "zero": false}}, "y": {"field": "r", "type": "nominal", "scale": {"type": "point", "domain": ["No. at risk","Group I","Group II","Group III","Group IV"], "range": [651, 760], "padding": 0}, "axis": null}, "text": {"field": "r"}}},
   {"data": {"name": "hdr"}, "mark": {"type": "text", "font": "Liberation Serif", "fontSize": 17, "fontWeight": "bold", "align": "center", "baseline": "middle", "color": "#000"},
    "encoding": {"x": {"field": "t", "type": "quantitative", "title": "Months", "scale": {"domain": [-3.3, 63.1], "nice": false, "zero": false}}, "y": {"datum": "No. at risk", "type": "nominal", "scale": {"type": "point", "domain": ["No. at risk","Group I","Group II","Group III","Group IV"], "range": [651, 760], "padding": 0}, "axis": null}, "text": {"field": "t"}}},
   {"data": {"name": "grp"}, "mark": {"type": "text", "font": "Liberation Serif", "fontSize": 17, "fontWeight": "bold", "align": "left", "baseline": "middle"},
    "encoding": {"x": {"datum": -11.66, "type": "quantitative", "scale": {"domain": [-3.3, 63.1], "nice": false, "zero": false}}, "y": {"field": "r", "type": "nominal", "scale": {"type": "point", "domain": ["No. at risk","Group I","Group II","Group III","Group IV"], "range": [651, 760], "padding": 0}, "axis": null}, "text": {"field": "r"}, "color": {"field": "g", "type": "nominal", "scale": {"domain": ["18-34 yr","35-49 yr","50-64 yr",">= 65 yr"], "range": ["#1f3ff2","#ee1d23","#2bab4a","#f6a12b"]}, "legend": null}}},
   {"data": {"name": "tb"}, "mark": {"type": "text", "font": "Liberation Serif", "fontSize": 17, "fontWeight": "bold", "align": "center", "baseline": "middle"},
    "encoding": {"x": {"field": "t", "type": "quantitative", "title": "Months", "scale": {"domain": [-3.3, 63.1], "nice": false, "zero": false}}, "y": {"field": "r", "type": "nominal", "scale": {"type": "point", "domain": ["No. at risk","Group I","Group II","Group III","Group IV"], "range": [651, 760], "padding": 0}, "axis": null}, "text": {"field": "n"}, "color": {"field": "g", "type": "nominal", "scale": {"domain": ["18-34 yr","35-49 yr","50-64 yr",">= 65 yr"], "range": ["#1f3ff2","#ee1d23","#2bab4a","#f6a12b"]}, "legend": null}}}
  ]}
 ]
},
{
 "width": 818, "height": 560,
 "resolve": {"scale": {"y": "independent"}},
 "layer": [
  {"layer": [
   {"data": {"name": "cc"}, "mark": {"type": "line", "interpolate": "step-after", "strokeWidth": 2.6},
    "encoding": {
     "x": {"field": "t", "type": "quantitative", "scale": {"domain": [-3.45, 62.85], "nice": false, "zero": false}, "axis": {"values": [0,10,20,30,40,50,60], "labelExpr": "datum.value == 0 ? '.00' : format(datum.value, '.2f')", "title": "Months"}},
     "y": {"field": "s", "type": "quantitative", "scale": {"domain": [-0.0503, 1.0553], "nice": false, "zero": false}, "axis": {"values": [0,0.2,0.4,0.6,0.8,1], "format": ".1f", "title": "Overall survival"}},
     "color": {"field": "g", "type": "nominal", "scale": {"domain": ["18-34 yr","35-49 yr","50-64 yr",">= 65 yr"], "range": ["#1f3ff2","#ee1d23","#2bab4a","#f6a12b"]}, "legend": {"orient": "none", "legendX": 667, "legendY": -11, "title": null}}
    }},
   {"data": {"values": [{"p": "P = 0.850"}]}, "mark": {"type": "text", "font": "Liberation Serif", "fontSize": 31, "baseline": "middle", "align": "center", "color": "#000"},
    "encoding": {"x": {"datum": 30.9, "type": "quantitative", "scale": {"domain": [-3.45, 62.85], "nice": false, "zero": false}}, "y": {"datum": 1.0, "type": "quantitative", "scale": {"domain": [-0.0503, 1.0553], "nice": false, "zero": false}}, "text": {"field": "p"}}},
   {"data": {"values": [{"k": "c"}]}, "mark": {"type": "text", "font": "Liberation Serif", "fontSize": 34, "fontWeight": "bold", "baseline": "alphabetic", "align": "left", "color": "#000"},
    "encoding": {"x": {"datum": -13.09, "type": "quantitative", "scale": {"domain": [-3.45, 62.85], "nice": false, "zero": false}}, "y": {"datum": 1.0356, "type": "quantitative", "scale": {"domain": [-0.0503, 1.0553], "nice": false, "zero": false}}, "text": {"field": "k"}}}
  ]},
  {"layer": [
   {"data": {"name": "rows"}, "mark": {"type": "rule", "color": "#6e6e6e", "strokeWidth": 2, "yOffset": 13},
    "encoding": {"x": {"datum": -13.58, "type": "quantitative", "scale": {"domain": [-3.45, 62.85], "nice": false, "zero": false}}, "x2": {"datum": 65.03}, "y": {"field": "r", "type": "nominal", "scale": {"type": "point", "domain": ["No. at risk","Group I","Group II","Group III","Group IV"], "range": [651, 760], "padding": 0}, "axis": null}}},
   {"data": {"values": [{"r": "No. at risk"}]}, "mark": {"type": "rule", "color": "#000", "strokeWidth": 3, "yOffset": -16},
    "encoding": {"x": {"datum": -13.58, "type": "quantitative", "scale": {"domain": [-3.45, 62.85], "nice": false, "zero": false}}, "x2": {"datum": 65.03}, "y": {"field": "r", "type": "nominal", "scale": {"type": "point", "domain": ["No. at risk","Group I","Group II","Group III","Group IV"], "range": [651, 760], "padding": 0}, "axis": null}}},
   {"data": {"values": [{"r": "No. at risk"}]}, "mark": {"type": "text", "font": "Liberation Serif", "fontSize": 17, "fontWeight": "bold", "align": "left", "baseline": "middle", "color": "#000"},
    "encoding": {"x": {"datum": -13.5, "type": "quantitative", "scale": {"domain": [-3.45, 62.85], "nice": false, "zero": false}}, "y": {"field": "r", "type": "nominal", "scale": {"type": "point", "domain": ["No. at risk","Group I","Group II","Group III","Group IV"], "range": [651, 760], "padding": 0}, "axis": null}, "text": {"field": "r"}}},
   {"data": {"name": "hdr"}, "mark": {"type": "text", "font": "Liberation Serif", "fontSize": 17, "fontWeight": "bold", "align": "center", "baseline": "middle", "color": "#000"},
    "encoding": {"x": {"field": "t", "type": "quantitative", "title": "Months", "scale": {"domain": [-3.45, 62.85], "nice": false, "zero": false}}, "y": {"datum": "No. at risk", "type": "nominal", "scale": {"type": "point", "domain": ["No. at risk","Group I","Group II","Group III","Group IV"], "range": [651, 760], "padding": 0}, "axis": null}, "text": {"field": "t"}}},
   {"data": {"name": "grp"}, "mark": {"type": "text", "font": "Liberation Serif", "fontSize": 17, "fontWeight": "bold", "align": "left", "baseline": "middle"},
    "encoding": {"x": {"datum": -11.88, "type": "quantitative", "scale": {"domain": [-3.45, 62.85], "nice": false, "zero": false}}, "y": {"field": "r", "type": "nominal", "scale": {"type": "point", "domain": ["No. at risk","Group I","Group II","Group III","Group IV"], "range": [651, 760], "padding": 0}, "axis": null}, "text": {"field": "r"}, "color": {"field": "g", "type": "nominal", "scale": {"domain": ["18-34 yr","35-49 yr","50-64 yr",">= 65 yr"], "range": ["#1f3ff2","#ee1d23","#2bab4a","#f6a12b"]}, "legend": null}}},
   {"data": {"name": "tc"}, "mark": {"type": "text", "font": "Liberation Serif", "fontSize": 17, "fontWeight": "bold", "align": "center", "baseline": "middle"},
    "encoding": {"x": {"field": "t", "type": "quantitative", "title": "Months", "scale": {"domain": [-3.45, 62.85], "nice": false, "zero": false}}, "y": {"field": "r", "type": "nominal", "scale": {"type": "point", "domain": ["No. at risk","Group I","Group II","Group III","Group IV"], "range": [651, 760], "padding": 0}, "axis": null}, "text": {"field": "n"}, "color": {"field": "g", "type": "nominal", "scale": {"domain": ["18-34 yr","35-49 yr","50-64 yr",">= 65 yr"], "range": ["#1f3ff2","#ee1d23","#2bab4a","#f6a12b"]}, "legend": null}}}
  ]}
 ]
},
{
 "width": 818, "height": 560,
 "resolve": {"scale": {"y": "independent"}},
 "layer": [
  {"layer": [
   {"data": {"name": "cd"}, "mark": {"type": "line", "interpolate": "step-after", "strokeWidth": 2.6},
    "encoding": {
     "x": {"field": "t", "type": "quantitative", "scale": {"domain": [-3.5, 62.95], "nice": false, "zero": false}, "axis": {"values": [0,10,20,30,40,50,60], "labelExpr": "datum.value == 0 ? '.00' : format(datum.value, '.2f')", "title": "Months"}},
     "y": {"field": "s", "type": "quantitative", "scale": {"domain": [-0.0524, 1.035], "nice": false, "zero": false}, "axis": {"values": [0,0.2,0.4,0.6,0.8,1], "format": ".1f", "title": "Overall survival"}},
     "color": {"field": "g", "type": "nominal", "scale": {"domain": ["18-34 yr","35-49 yr","50-64 yr",">= 65 yr"], "range": ["#1f3ff2","#ee1d23","#2bab4a","#f6a12b"]}, "legend": {"orient": "none", "legendX": 673, "legendY": -12.5, "title": null}}
    }},
   {"data": {"values": [{"p": "P = 0.442"}]}, "mark": {"type": "text", "font": "Liberation Serif", "fontSize": 31, "baseline": "middle", "align": "center", "color": "#000"},
    "encoding": {"x": {"datum": 30.9, "type": "quantitative", "scale": {"domain": [-3.5, 62.95], "nice": false, "zero": false}}, "y": {"datum": 0.985, "type": "quantitative", "scale": {"domain": [-0.0524, 1.035], "nice": false, "zero": false}}, "text": {"field": "p"}}},
   {"data": {"values": [{"k": "d"}]}, "mark": {"type": "text", "font": "Liberation Serif", "fontSize": 34, "fontWeight": "bold", "baseline": "alphabetic", "align": "left", "color": "#000"},
    "encoding": {"x": {"datum": -10.08, "type": "quantitative", "scale": {"domain": [-3.5, 62.95], "nice": false, "zero": false}}, "y": {"datum": 1.004, "type": "quantitative", "scale": {"domain": [-0.0524, 1.035], "nice": false, "zero": false}}, "text": {"field": "k"}}}
  ]},
  {"layer": [
   {"data": {"name": "rows"}, "mark": {"type": "rule", "color": "#6e6e6e", "strokeWidth": 2, "yOffset": 13},
    "encoding": {"x": {"datum": -13.82, "type": "quantitative", "scale": {"domain": [-3.5, 62.95], "nice": false, "zero": false}}, "x2": {"datum": 64.74}, "y": {"field": "r", "type": "nominal", "scale": {"type": "point", "domain": ["No. at risk","Group I","Group II","Group III","Group IV"], "range": [651, 760], "padding": 0}, "axis": null}}},
   {"data": {"values": [{"r": "No. at risk"}]}, "mark": {"type": "rule", "color": "#000", "strokeWidth": 3, "yOffset": -16},
    "encoding": {"x": {"datum": -13.82, "type": "quantitative", "scale": {"domain": [-3.5, 62.95], "nice": false, "zero": false}}, "x2": {"datum": 64.74}, "y": {"field": "r", "type": "nominal", "scale": {"type": "point", "domain": ["No. at risk","Group I","Group II","Group III","Group IV"], "range": [651, 760], "padding": 0}, "axis": null}}},
   {"data": {"values": [{"r": "No. at risk"}]}, "mark": {"type": "text", "font": "Liberation Serif", "fontSize": 17, "fontWeight": "bold", "align": "left", "baseline": "middle", "color": "#000"},
    "encoding": {"x": {"datum": -13.65, "type": "quantitative", "scale": {"domain": [-3.5, 62.95], "nice": false, "zero": false}}, "y": {"field": "r", "type": "nominal", "scale": {"type": "point", "domain": ["No. at risk","Group I","Group II","Group III","Group IV"], "range": [651, 760], "padding": 0}, "axis": null}, "text": {"field": "r"}}},
   {"data": {"name": "hdr"}, "mark": {"type": "text", "font": "Liberation Serif", "fontSize": 17, "fontWeight": "bold", "align": "center", "baseline": "middle", "color": "#000"},
    "encoding": {"x": {"field": "t", "type": "quantitative", "title": "Months", "scale": {"domain": [-3.5, 62.95], "nice": false, "zero": false}}, "y": {"datum": "No. at risk", "type": "nominal", "scale": {"type": "point", "domain": ["No. at risk","Group I","Group II","Group III","Group IV"], "range": [651, 760], "padding": 0}, "axis": null}, "text": {"field": "t"}}},
   {"data": {"name": "grp"}, "mark": {"type": "text", "font": "Liberation Serif", "fontSize": 17, "fontWeight": "bold", "align": "left", "baseline": "middle"},
    "encoding": {"x": {"datum": -11.75, "type": "quantitative", "scale": {"domain": [-3.5, 62.95], "nice": false, "zero": false}}, "y": {"field": "r", "type": "nominal", "scale": {"type": "point", "domain": ["No. at risk","Group I","Group II","Group III","Group IV"], "range": [651, 760], "padding": 0}, "axis": null}, "text": {"field": "r"}, "color": {"field": "g", "type": "nominal", "scale": {"domain": ["18-34 yr","35-49 yr","50-64 yr",">= 65 yr"], "range": ["#1f3ff2","#ee1d23","#2bab4a","#f6a12b"]}, "legend": null}}},
   {"data": {"name": "td"}, "mark": {"type": "text", "font": "Liberation Serif", "fontSize": 17, "fontWeight": "bold", "align": "center", "baseline": "middle"},
    "encoding": {"x": {"field": "t", "type": "quantitative", "title": "Months", "scale": {"domain": [-3.5, 62.95], "nice": false, "zero": false}}, "y": {"field": "r", "type": "nominal", "scale": {"type": "point", "domain": ["No. at risk","Group I","Group II","Group III","Group IV"], "range": [651, 760], "padding": 0}, "axis": null}, "text": {"field": "n"}, "color": {"field": "g", "type": "nominal", "scale": {"domain": ["18-34 yr","35-49 yr","50-64 yr",">= 65 yr"], "range": ["#1f3ff2","#ee1d23","#2bab4a","#f6a12b"]}, "legend": null}}}
  ]}
 ]
}
]
}
